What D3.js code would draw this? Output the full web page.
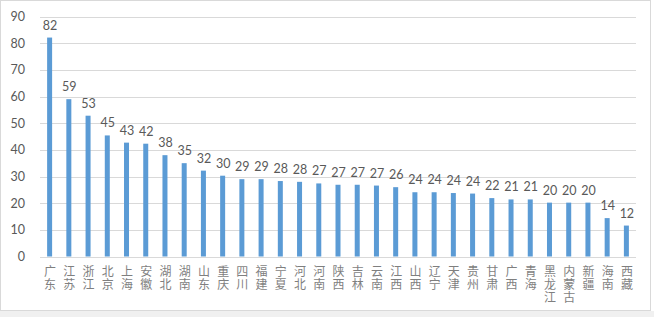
<!DOCTYPE html>
<html><head><meta charset="utf-8">
<script src="https://cdn.jsdelivr.net/npm/d3@7"></script>
<style>body{margin:0;background:#fff}svg{display:block}</style>
</head><body>
<script>
const categories = ["广东","江苏","浙江","北京","上海","安徽","湖北","湖南","山东","重庆","四川","福建","宁夏","河北","河南","陕西","吉林","云南","江西","山西","辽宁","天津","贵州","甘肃","广西","青海","黑龙江","内蒙古","新疆","海南","西藏"];
const values = [82.1,59.0,52.8,45.4,42.7,42.3,38.0,35.0,32.2,30.3,29.0,29.0,28.3,28.0,27.4,26.9,26.9,26.6,26.0,24.1,24.1,23.8,23.6,21.9,21.4,21.4,20.2,20.2,20.2,14.4,11.6];
const yTicks = [0,10,20,30,40,50,60,70,80,90];

const W = 654, H = 317;
const svg = d3.select("body").append("svg").attr("width", W).attr("height", H);

// frame
svg.append("rect").attr("x",0).attr("y",311).attr("width",W).attr("height",6).attr("fill","#f0f0f0");
svg.append("rect").attr("x",0.5).attr("y",0.5).attr("width",650).attr("height",310)
  .attr("fill","#fff").attr("stroke","#d9d9d9");

const x = d3.scaleBand().domain(categories).range([40, 636]);
const y = d3.scaleLinear().domain([0, 90]).range([256.5, 16.5]);

// gridlines
svg.append("g").selectAll("line").data(yTicks).join("line")
  .attr("x1", 40).attr("x2", 636)
  .attr("y1", d => Math.round(y(d)) + 0.5).attr("y2", d => Math.round(y(d)) + 0.5)
  .attr("stroke", "#d9d9d9").attr("stroke-width", 1.2);

// y axis labels
const yAxis = d3.axisLeft(y).tickValues(yTicks).tickSize(0).tickPadding(0);
const ya = svg.append("g").attr("transform", "translate(25,0)").call(yAxis);
ya.select(".domain").remove();
ya.selectAll("text").attr("fill", "#595959").attr("font-size", 12.5)
  .attr("font-family", "Lato, 'Open Sans', sans-serif");

// bars
const bw = 5;
svg.append("g").selectAll("rect").data(values).join("rect")
  .attr("x", (d, i) => x(categories[i]) + x.bandwidth() / 2 - bw / 2)
  .attr("width", bw)
  .attr("y", d => y(d))
  .attr("height", d => y(0) - y(d))
  .attr("fill", "#5b9bd5");

// value labels
svg.append("g").selectAll("text").data(values).join("text")
  .attr("x", (d, i) => x(categories[i]) + x.bandwidth() / 2 + 0.5)
  .attr("y", d => y(d) - 8)
  .attr("text-anchor", "middle")
  .attr("fill", "#595959").attr("font-size", 12.5)
  .attr("font-family", "Lato, 'Open Sans', sans-serif")
  .text(d => d3.format(".0f")(d));

// x labels (vertical writing)
svg.append("g").selectAll("text").data(categories).join("text")
  .attr("x", c => x(c) + x.bandwidth() / 2 + 0.5)
  .attr("y", 265)
  .attr("writing-mode", "vertical-rl")
  .style("writing-mode", "vertical-rl")
  .style("letter-spacing", "1px")
  .attr("fill", "#7f7f7f").attr("font-size", 12)
  .attr("font-family", "'Noto Sans CJK SC', sans-serif")
  .text(c => c);
</script>
</body></html>
